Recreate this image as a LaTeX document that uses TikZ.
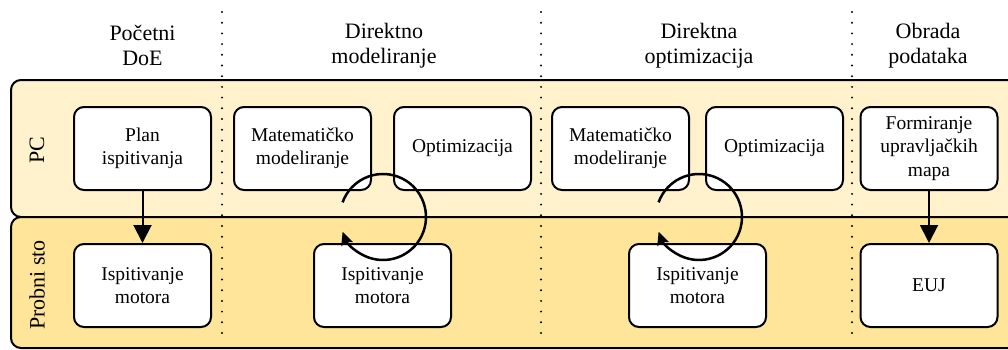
\documentclass[tikz,border=0pt]{standalone}
\usepackage{fontspec}
\setmainfont{Liberation Serif}
\newfontfamily\timesfont{Liberation Serif}
\usetikzlibrary{positioning,arrows.meta}
\definecolor{pclane}{HTML}{FFF2CC}
\definecolor{stolane}{HTML}{FFE599}

\begin{document}
\begin{tikzpicture}[x=1pt,y=1pt,node distance=137pt,on grid,
    box/.style={draw,fill=white,rounded corners=10pt,line width=2pt,minimum width=137pt,minimum height=83pt,align=center,inner sep=2pt,font=\timesfont\fontsize{19.5}{23.5}\selectfont},
    head/.style={align=center,font=\timesfont\fontsize{22}{25}\selectfont},
    lanename/.style={rotate=90,font=\timesfont\fontsize{22}{25}\selectfont},
    lane/.style={draw,line width=2pt,rounded corners=10pt},
    sepline/.style={line width=2.2pt,line cap=round,dash pattern=on 0pt off 10.7pt},
    arr/.style={draw,line width=2pt,-{Triangle[length=18pt,width=18pt]}},
    loop/.style={line width=2.5pt,-{Stealth[length=13pt,width=12pt,inset=2pt]}}]
                \useasboundingbox (0,0) rectangle (1008,349);
                \clip (0,0) rectangle (1008,349);
                % lanes
                \draw[lane,fill=pclane] (11,132) rectangle (1030,269);
                \draw[lane,fill=stolane] (11,1) rectangle (1030,132);
                \node[lanename] (pc) at (37,199) {PC};
                \node[lanename] (sto) at (37,64) {Probni sto};
                % columns
                \coordinate (s1t) at (222,337); \coordinate (s1b) at (222,6);
                \coordinate (s2t) at (541,337); \coordinate (s2b) at (541,6);
                \coordinate (s3t) at (852,337); \coordinate (s3b) at (852,6);
                \draw[sepline] (s1t) -- (s1b) (s2t) -- (s2b) (s3t) -- (s3b);
                \node[head] (h1) at (142.5,303.5) {Početni\\DoE};
                \node[head] (h2) at (384,303.5) {Direktno\\modeliranje};
                \node[head] (h3) at (699,303.5) {Direktna\\optimizacija};
                \node[head] (h4) at (928,303.5) {Obrada\\podataka};
                % boxes
                \node[box] (plan) at (142.5,200.5) {Plan\\ispitivanja};
                \node[box,below=of plan] (isp1) {Ispitivanje\\motora};
                \node[box] (mat1) at (302.5,200.5) {Matematičko\\modeliranje};
                \node[box,right=160pt of mat1] (opt1) {Optimizacija};
                \node[box] (isp2) at (382.5,63.5) {Ispitivanje\\motora};
                \node[box] (mat2) at (620.5,200.5) {Matematičko\\modeliranje};
                \node[box,right=154pt of mat2] (opt2) {Optimizacija};
                \node[box] (isp3) at (697.5,63.5) {Ispitivanje\\motora};
                \node[box] (form) at (929,200.5) {Formiranje\\upravljačkih\\mapa};
                \node[box,below=of form] (euj) {EUJ};
                \path
                    (plan) edge[arr] (isp1)
                    (form) edge[arr] (euj);
                % iteration loops
                \coordinate (c1) at (383,132);
                \coordinate (c2) at (699,132);
                \draw[loop] ([shift={(160:43pt)}]c1) arc[start angle=160,end angle=-160,radius=43pt];
                \draw[loop] ([shift={(160:43pt)}]c2) arc[start angle=160,end angle=-160,radius=43pt];
            \end{tikzpicture}
\end{document}
